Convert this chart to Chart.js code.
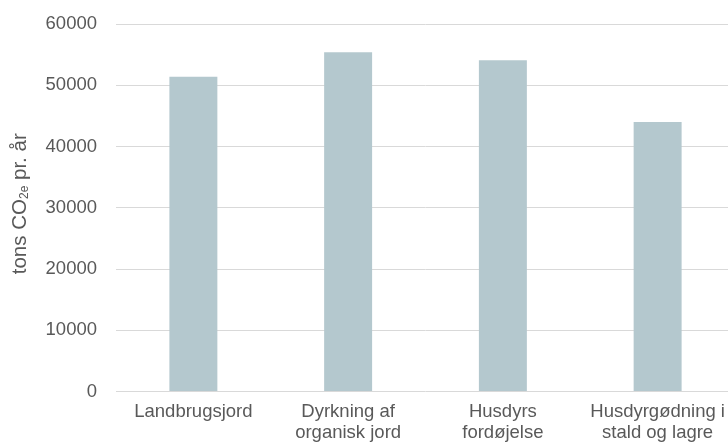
<!DOCTYPE html>
<html>
<head>
<meta charset="utf-8">
<script src="https://cdn.jsdelivr.net/npm/chart.js@4/dist/chart.umd.min.js"></script>
<style>
  html, body { margin: 0; padding: 0; background: #fff; overflow: hidden; }
  #wrap { position: relative; width: 740px; height: 446px; }
</style>
</head>
<body>
<div id="wrap"><canvas id="wykres"></canvas></div>
<script>
var kategorier = [
  'Landbrugsjord',
  ['Dyrkning af', 'organisk jord'],
  ['Husdyrs', 'fordøjelse'],
  ['Husdyrgødning i', 'stald og lagre']
];
var udledning = [51400, 55400, 54100, 44000]; // tons CO2e pr. år
var yTicks = [0, 10000, 20000, 30000, 40000, 50000, 60000];

var tekstFarve = '#595959';
var font = 'Liberation Sans, Arial, Helvetica, sans-serif';

// aksetitel med sænket "2e"
var aksetitel = {
  id: 'aksetitel',
  afterDraw: function (chart) {
    var ctx = chart.ctx;
    var area = chart.chartArea;
    var dele = [
      { t: 'tons CO', s: 20.5, dy: 0 },
      { t: '2e', s: 12, dy: 5 },
      { t: ' pr. år', s: 20.5, dy: 0 }
    ];
    ctx.save();
    var total = 0;
    dele.forEach(function (d) {
      ctx.font = d.s + 'px ' + font;
      d.w = ctx.measureText(d.t).width;
      total += d.w;
    });
    ctx.translate(20, (area.top + area.bottom) / 2 - 4);
    ctx.rotate(-Math.PI / 2);
    ctx.fillStyle = tekstFarve;
    ctx.textBaseline = 'middle';
    var x = -total / 2;
    dele.forEach(function (d) {
      ctx.font = d.s + 'px ' + font;
      ctx.fillText(d.t, x, d.dy);
      x += d.w;
    });
    ctx.restore();
  }
};

new Chart(document.getElementById('wykres'), {
  type: 'bar',
  data: {
    labels: kategorier,
    datasets: [{
      data: udledning,
      backgroundColor: '#b4c8ce',
      borderWidth: 0,
      categoryPercentage: 1,
      barPercentage: 0.31
    }]
  },
  plugins: [aksetitel],
  options: {
    responsive: true,
    maintainAspectRatio: false,
    animation: false,
    layout: { padding: { top: 24, left: 0, right: 5, bottom: 0 } },
    plugins: { legend: { display: false }, tooltip: { enabled: false } },
    scales: {
      x: {
        grid: { display: false, drawTicks: false },
        border: { display: false },
        ticks: {
          color: tekstFarve,
          font: { family: font, size: 18.5, lineHeight: 1.18 },
          padding: 9,
          maxRotation: 0,
          autoSkip: false
        },
        afterFit: function (s) { s.height = 54.5; s.paddingLeft = 0; s.paddingRight = 0; }
      },
      y: {
        min: 0,
        max: 60000,
        afterBuildTicks: function (s) { s.ticks = yTicks.map(function (v) { return { value: v }; }); },
        grid: { color: '#d9d9d9', lineWidth: 1, drawTicks: false },
        border: { display: false },
        ticks: {
          color: tekstFarve,
          font: { family: font, size: 18.5 },
          padding: 19,
          callback: function (v) { return String(v); }
        },
        afterFit: function (s) { s.width = 116; s.paddingTop = 0; s.paddingBottom = 0; }
      }
    }
  }
});
</script>
</body>
</html>
